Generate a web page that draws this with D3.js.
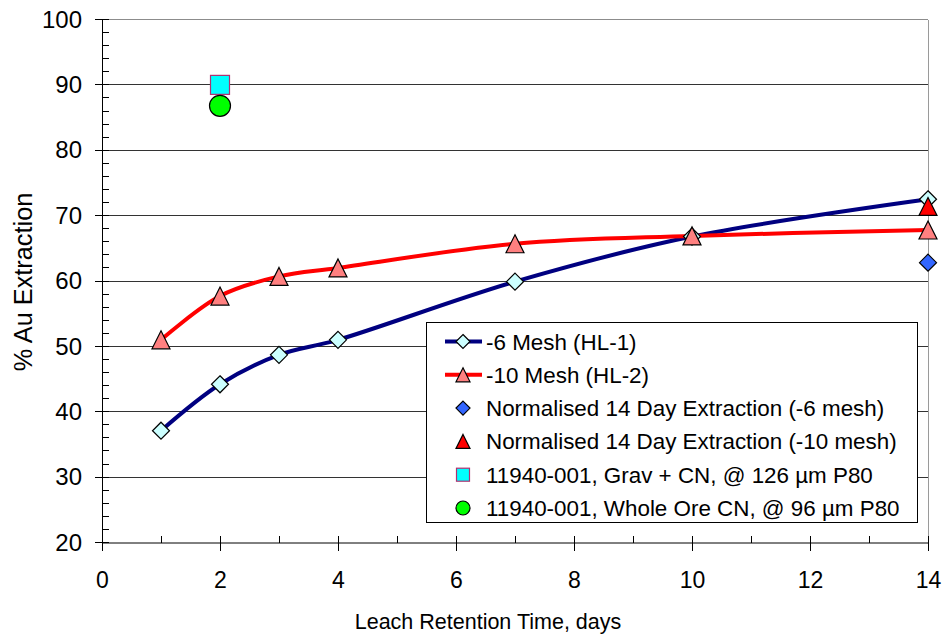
<!DOCTYPE html>
<html><head><meta charset="utf-8">
<script src="https://cdn.jsdelivr.net/npm/d3@7"></script>
<style>body{margin:0;background:#fff}svg{display:block}text{font-family:"Liberation Sans",Arial,sans-serif;fill:#000}</style>
</head><body><svg id="c" width="943" height="637"></svg>
<script>
const days = [1, 2, 3, 4, 7, 10, 14];
const hl1 = [37.1, 44.2, 48.7, 51.0, 59.9, 66.8, 72.5];
const hl2 = [51.0, 57.7, 60.7, 62.0, 65.7, 66.9, 67.8];
const norm6 = [[14, 62.8]];
const norm10 = [[14, 71.4]];
const gravCN = [[2, 90.0]];
const wholeCN = [[2, 86.8]];
const xTicks = [0, 2, 4, 6, 8, 10, 12, 14];
const yTicks = [20, 30, 40, 50, 60, 70, 80, 90, 100];
const legendLabels = ["-6 Mesh (HL-1)", "-10 Mesh (HL-2)", "Normalised 14 Day Extraction (-6 mesh)",
  "Normalised 14 Day Extraction (-10 mesh)", "11940-001, Grav + CN, @ 126 µm P80", "11940-001, Whole Ore CN, @ 96 µm P80"];

const svg = d3.select("#c");
const x = d3.scaleLinear().domain([0, 14]).range([102, 928]);
const y = d3.scaleLinear().domain([20, 100]).range([542.5, 19.5]);

// gridlines
const g = svg.append("g");
g.selectAll("line.grid").data(yTicks.filter(v => v > 20)).join("line")
  .attr("x1", x(0)).attr("x2", x(14)).attr("y1", d => y(d)).attr("y2", d => y(d))
  .attr("stroke", d => d === 100 ? "#8c8c8c" : "#333").attr("stroke-width", 1).attr("shape-rendering", "crispEdges");
g.append("line").attr("x1", x(14)).attr("x2", x(14)).attr("y1", y(100)).attr("y2", y(20))
  .attr("stroke", "#9a9a9a").attr("shape-rendering", "crispEdges");

// y axis
const ya = svg.append("g").attr("transform", `translate(${x(0)},0)`)
  .call(d3.axisLeft(y).tickValues(yTicks).tickSize(0).tickPadding(20));
ya.select(".domain").attr("stroke", "#000");
ya.selectAll("text").attr("font-size", 24).attr("font-family", "Liberation Sans, Arial, sans-serif");
const yMinor = d3.range(20, 100.01, 2);
svg.append("g").selectAll("line").data(yMinor).join("line")
  .attr("x1", d => d % 10 === 0 ? x(0) - 7 : x(0)).attr("x2", x(0) + 7)
  .attr("y1", d => y(d)).attr("y2", d => y(d)).attr("stroke", "#000").attr("shape-rendering", "crispEdges");

// x axis
const xa = svg.append("g").attr("transform", `translate(0,${y(20)})`)
  .call(d3.axisBottom(x).tickValues(xTicks).tickSize(0).tickPadding(29));
xa.select(".domain").attr("stroke", "#000");
xa.selectAll("text").attr("font-size", 23).attr("font-family", "Liberation Sans, Arial, sans-serif");
const xMinor = d3.range(0, 14.01, 1);
svg.append("g").selectAll("line").data(xMinor).join("line")
  .attr("x1", d => x(d)).attr("x2", d => x(d))
  .attr("y1", d => y(20) - 7).attr("y2", d => d % 2 === 0 ? y(20) + 8 : y(20))
  .attr("stroke", "#000").attr("shape-rendering", "crispEdges");

// titles
svg.append("text").attr("x", 488).attr("y", 629).attr("text-anchor", "middle").attr("font-size", 21.5)
  .text("Leach Retention Time, days");
svg.append("text").attr("transform", `translate(32,${(y(20) + y(100)) / 2 + 1}) rotate(-90)`)
  .attr("text-anchor", "middle").attr("font-size", 25.3).text("% Au Extraction");

// lines
const line = d3.line().x(d => x(d[0])).y(d => y(d[1])).curve(d3.curveCatmullRom.alpha(0.5));
const s1 = days.map((d, i) => [d, hl1[i]]);
const s2 = days.map((d, i) => [d, hl2[i]]);
svg.append("path").datum(s1).attr("d", line).attr("fill", "none").attr("stroke", "#000080").attr("stroke-width", 4);
svg.append("path").datum(s2).attr("d", line).attr("fill", "none").attr("stroke", "#ff0000").attr("stroke-width", 4);

// marker helpers
const diamond = (sel, cx, cy, r, fill) => sel.append("path")
  .attr("d", `M${cx},${cy - r}L${cx + r},${cy}L${cx},${cy + r}L${cx - r},${cy}Z`)
  .attr("fill", fill).attr("stroke", "#000").attr("stroke-width", 1.2);
const tri = (sel, cx, cy, r, fill) => sel.append("path")
  .attr("d", `M${cx},${cy - r}L${cx + r},${cy + r}L${cx - r},${cy + r}Z`)
  .attr("fill", fill).attr("stroke", "#000").attr("stroke-width", 1.2);
const square = (sel, cx, cy, r, fill) => sel.append("rect")
  .attr("x", cx - r).attr("y", cy - r).attr("width", 2 * r).attr("height", 2 * r)
  .attr("fill", fill).attr("stroke", "#b03070").attr("stroke-width", 1.2);
const circ = (sel, cx, cy, r, fill) => sel.append("circle").attr("cx", cx).attr("cy", cy).attr("r", r)
  .attr("fill", fill).attr("stroke", "#000").attr("stroke-width", 1.2);

const m = svg.append("g");
s1.forEach(d => diamond(m, x(d[0]), y(d[1]), 8.5, "#ccffff"));
s2.forEach(d => tri(m, x(d[0]), y(d[1]), 9, "#ff8080"));
norm6.forEach(d => diamond(m, x(d[0]), y(d[1]), 8.5, "#3366ff"));
norm10.forEach(d => tri(m, x(d[0]), y(d[1]), 9, "#ff0000"));
gravCN.forEach(d => square(m, x(d[0]), y(d[1]), 9.5, "#00ffff"));
wholeCN.forEach(d => circ(m, x(d[0]), y(d[1]), 10.5, "#00ff00"));

// legend
const lg = svg.append("g");
lg.append("rect").attr("x", 426).attr("y", 322.5).attr("width", 491).attr("height", 200)
  .attr("fill", "#fff").attr("stroke", "#000").attr("stroke-width", 1).attr("shape-rendering", "crispEdges");
const rowY = i => 341.5 + i * 33.3;
legendLabels.forEach((t, i) => {
  lg.append("text").attr("x", 486).attr("y", rowY(i) + 8).attr("font-size", 22.4).text(t);
});
lg.append("line").attr("x1", 445).attr("x2", 482).attr("y1", rowY(0)).attr("y2", rowY(0)).attr("stroke", "#000080").attr("stroke-width", 4);
diamond(lg, 463, rowY(0), 7, "#ccffff");
lg.append("line").attr("x1", 445).attr("x2", 482).attr("y1", rowY(1)).attr("y2", rowY(1)).attr("stroke", "#ff0000").attr("stroke-width", 4);
tri(lg, 463, rowY(1), 7, "#ff8080");
diamond(lg, 463, rowY(2), 7, "#3366ff");
tri(lg, 463, rowY(3), 7, "#ff0000");
square(lg, 463, rowY(4), 6.5, "#00ffff");
circ(lg, 463, rowY(5), 7, "#00ff00");
</script></body></html>
